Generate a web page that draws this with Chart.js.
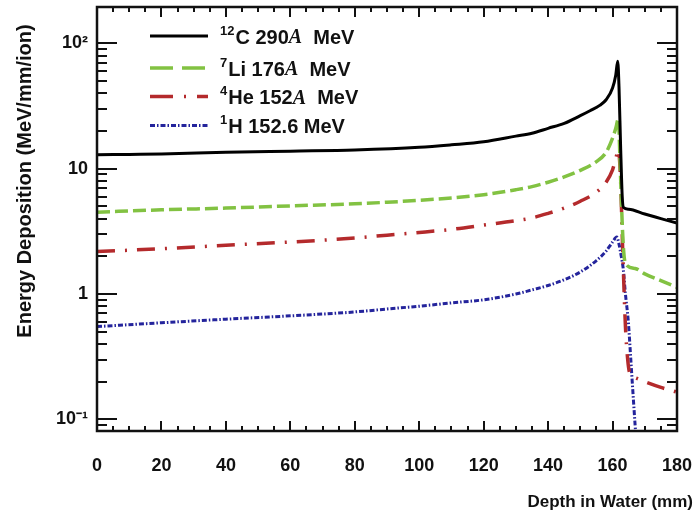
<!DOCTYPE html>
<html><head><meta charset="utf-8">
<script src="https://cdn.jsdelivr.net/npm/chart.js@4/dist/chart.umd.min.js"></script>
<style>html,body{margin:0;padding:0;background:#fff}canvas{display:block}</style>
</head><body>
<canvas id="c" width="695" height="517"></canvas>
<script>
// ---- data ----
const carbonDepth = [0, 10, 20, 40, 60, 80, 100, 110, 120, 130, 135, 140, 145, 150, 153, 156, 158, 160, 161, 161.6, 162, 162.5, 163, 163.4, 165, 170, 175, 180];
const carbonDose  = [12.9, 13.0, 13.1, 13.5, 13.8, 14.1, 14.8, 15.5, 16.4, 18.2, 19.2, 21, 23, 26.5, 29, 32, 35.5, 44, 56, 72, 45, 15, 6, 4.9, 4.75, 4.35, 4.0, 3.68];

const lithiumDepth = [0, 20, 40, 60, 80, 90, 100, 110, 120, 130, 135, 140, 145, 150, 155, 158, 160, 161, 161.8, 162.3, 162.8, 163.3, 164, 167, 170, 175, 180];
const lithiumDose  = [4.5, 4.7, 4.85, 5.05, 5.25, 5.4, 5.6, 5.85, 6.2, 6.8, 7.2, 7.8, 8.6, 9.7, 11.4, 13.5, 17.5, 21, 25, 12, 5, 2.5, 1.75, 1.6, 1.45, 1.28, 1.13];

const heliumDepth = [0, 20, 40, 60, 80, 90, 100, 110, 120, 130, 135, 140, 145, 150, 155, 158, 160, 161, 161.8, 162.5, 163, 163.5, 164, 164.7, 165.4, 167, 170, 175, 180];
const heliumDose  = [2.18, 2.3, 2.45, 2.6, 2.8, 2.95, 3.1, 3.28, 3.55, 3.85, 4.05, 4.4, 4.85, 5.5, 6.5, 7.8, 9.8, 12, 14.2, 8, 3, 1.2, 0.55, 0.3, 0.23, 0.215, 0.2, 0.18, 0.165];

const protonDepth = [0, 20, 40, 60, 80, 90, 100, 110, 120, 130, 135, 140, 145, 150, 155, 158, 160, 161.3, 162, 162.7, 163.3, 164, 164.9, 165.5, 166, 166.5, 167, 167.5];
const protonDose  = [0.55, 0.59, 0.63, 0.67, 0.72, 0.76, 0.8, 0.85, 0.9, 1.0, 1.08, 1.17, 1.3, 1.5, 1.85, 2.2, 2.6, 2.85, 2.5, 2.0, 1.6, 1.0, 0.6, 0.35, 0.22, 0.14, 0.09, 0.06];

const xTickValues = [0, 20, 40, 60, 80, 100, 120, 140, 160, 180];
const yTickValues = [0.1, 1, 10, 100];
const yTickLabels = ['10\u207B\u00B9', '1', '10', '10\u00B2'];

// legend text pieces: s = superscript, t = plain, i = italic
const legendLabels = [
  [{s:'12'}, {t:'C 290'}, {i:'A'}, {t:'  MeV'}],
  [{s:'7'}, {t:'Li 176'}, {i:'A'}, {t:'  MeV'}],
  [{s:'4'}, {t:'He 152'}, {i:'A'}, {t:'  MeV'}],
  [{s:'1'}, {t:'H 152.6 MeV'}]
];
const xTitle = 'Depth in Water (mm)';
const yTitle = 'Energy Deposition (MeV/mm/ion)';

const toPts = (xs, ys) => xs.map((v, i) => ({x: v, y: ys[i]}));

const FONT = "'Liberation Sans', Arial, sans-serif";

const zeroPad = s => { s.paddingLeft = 0; s.paddingRight = 0; s.paddingTop = 0; s.paddingBottom = 0; };

const decorations = {
  id: 'decorations',
  afterDatasetsDraw(chart, args, opts) {
    const {ctx, chartArea: a, scales: {x, y}} = chart;
    ctx.save();
    ctx.strokeStyle = '#111';
    ctx.lineWidth = 2;
    ctx.beginPath();
    for (let v = x.min; v <= x.max + 1e-9; v += 5) {
      const px = Math.round(x.getPixelForValue(v));
      const len = (v % 20 === 0) ? 10 : 5;
      ctx.moveTo(px, a.bottom); ctx.lineTo(px, a.bottom - len);
      ctx.moveTo(px, a.top); ctx.lineTo(px, a.top + len);
    }
    for (let e = -2; e <= 3; e++) {
      for (let k = 1; k <= 9; k++) {
        const v = k * Math.pow(10, e);
        if (v < y.min || v > y.max) continue;
        const py = Math.round(y.getPixelForValue(v));
        const len = k === 1 ? 20 : 10;
        ctx.moveTo(a.left, py); ctx.lineTo(a.left + len, py);
        ctx.moveTo(a.right, py); ctx.lineTo(a.right - len, py);
      }
    }
    ctx.stroke();
    ctx.lineWidth = 2.5;
    ctx.strokeRect(a.left, a.top, a.right - a.left, a.bottom - a.top);

    const L = opts.legend;
    chart.data.datasets.forEach((ds, i) => {
      const ry = L.rows[i];
      ctx.save();
      ctx.strokeStyle = ds.borderColor;
      ctx.lineWidth = ds.borderWidth;
      ctx.setLineDash(L.dashes[i]);
      ctx.beginPath();
      ctx.moveTo(L.x0, ry - 2); ctx.lineTo(L.x1, ry - 2);
      ctx.stroke();
      ctx.restore();
      let tx = L.tx;
      ctx.fillStyle = '#111';
      ctx.textBaseline = 'middle';
      ctx.textAlign = 'left';
      legendLabels[i].forEach(p => {
        let txt, yy = ry;
        if (p.s !== undefined) { ctx.font = "bold 13px " + FONT; txt = p.s; yy = ry - 7; }
        else if (p.i !== undefined) { ctx.font = "bold italic 20px 'Liberation Serif', serif"; txt = p.i; }
        else { ctx.font = "bold 20px " + FONT; txt = p.t; }
        ctx.fillText(txt, tx, yy);
        tx += ctx.measureText(txt).width + (p.s !== undefined ? 1 : 0);
      });
    });

    ctx.fillStyle = '#111';
    ctx.font = "bold 17px " + FONT;
    ctx.textAlign = 'right';
    ctx.textBaseline = 'middle';
    ctx.fillText(xTitle, opts.xTitle.x, opts.xTitle.y);
    ctx.save();
    ctx.translate(opts.yTitle.x, opts.yTitle.y);
    ctx.rotate(-Math.PI / 2);
    ctx.textAlign = 'center';
    ctx.font = "bold 20px " + FONT;
    ctx.fillText(yTitle, 0, 0);
    ctx.restore();
    ctx.restore();
  }
};

new Chart(document.getElementById('c'), {
  type: 'line',
  data: {
    datasets: [
      {label: '12C', data: toPts(carbonDepth, carbonDose), borderColor: '#000000', borderWidth: 3, borderDash: []},
      {label: '7Li', data: toPts(lithiumDepth, lithiumDose), borderColor: '#82c242', borderWidth: 3.5, borderDash: [13, 5]},
      {label: '4He', data: toPts(heliumDepth, heliumDose), borderColor: '#b42a2c', borderWidth: 3.5, borderDash: [18, 10, 2, 10]},
      {label: '1H', data: toPts(protonDepth, protonDose), borderColor: '#24249c', borderWidth: 3, borderDash: [5, 2, 1.5, 2]}
    ]
  },
  options: {
    responsive: false,
    animation: false,
    devicePixelRatio: 1,
    layout: {autoPadding: false, padding: {left: 0, top: 7, right: 18, bottom: 0}},
    elements: {point: {radius: 0}, line: {cubicInterpolationMode: 'monotone', fill: false}},
    plugins: {
      legend: {display: false},
      tooltip: {enabled: false},
      decorations: {
        legend: {x0: 150, x1: 208, tx: 220, rows: [38, 70, 98.5, 127.5],
                 dashes: [[], [23, 9], [23, 11, 2, 11], [5, 2, 1.5, 2]]},
        xTitle: {x: 693, y: 502},
        yTitle: {x: 25, y: 181}
      }
    },
    scales: {
      x: {
        type: 'linear', min: 0, max: 180,
        grid: {display: false, drawTicks: false},
        border: {display: false},
        afterBuildTicks: s => { s.ticks = xTickValues.map(v => ({value: v})); },
        ticks: {padding: 24, color: '#111', font: {family: FONT, size: 18, weight: 'bold'}, maxRotation: 0},
        afterFit: s => { s.height = 86; zeroPad(s); }
      },
      y: {
        type: 'logarithmic', min: 0.0808, max: 195,
        grid: {display: false, drawTicks: false},
        border: {display: false},
        afterBuildTicks: s => { s.ticks = yTickValues.map(v => ({value: v})); },
        ticks: {padding: 9, color: '#111', font: {family: FONT, size: 18, weight: 'bold'},
                callback: (v) => { const i = yTickValues.indexOf(v); return i >= 0 ? yTickLabels[i] : ''; }},
        afterFit: s => { s.width = 97; zeroPad(s); }
      }
    }
  },
  plugins: [decorations]
});
</script>
</body></html>
